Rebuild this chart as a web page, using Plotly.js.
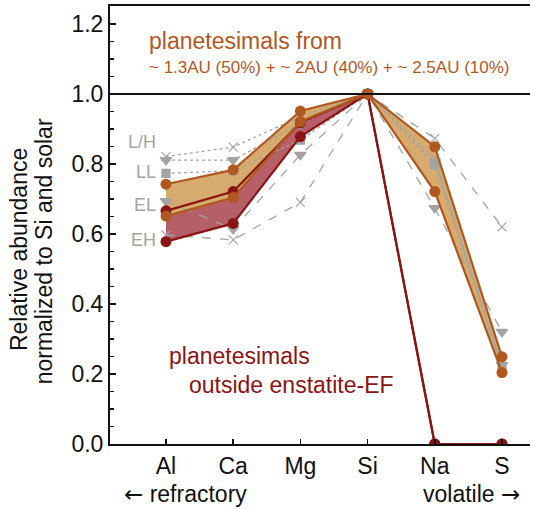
<!DOCTYPE html>
<html>
<head>
<meta charset="utf-8">
<script src="https://cdn.plot.ly/plotly-3.0.1.min.js"></script>
<style>html,body{margin:0;padding:0;background:#fff;}#chart{width:533px;height:509px;}</style>
</head>
<body>
<div id="chart"></div>
<script>
// ---- data ----
const elements = ['Al', 'Ca', 'Mg', 'Si', 'Na', 'S'];
const xIndex = [0, 1, 2, 3, 4, 5];
const orangeUpper = [0.742, 0.783, 0.951, 1.0, 0.849, 0.249];
const orangeLower = [0.651, 0.704, 0.921, 1.0, 0.721, 0.204];
const redUpper = [0.666, 0.721, 0.918, 1.0, 0.0, 0.0];
const redLower = [0.578, 0.630, 0.878, 1.0, 0.0, 0.0];
const grayL = [0.821, 0.848, 0.935, 1.0, 0.815, 0.220];
const grayH = [0.811, 0.811, 0.915, 1.0, 0.805, 0.225];
const grayLL = [0.773, 0.780, 0.868, 1.0, 0.797, 0.215];
const grayEL = [0.694, 0.614, 0.826, 1.0, 0.674, 0.320];
const grayEH = [0.597, 0.583, 0.690, 1.0, 0.873, 0.620];
const groupLabels = ['L/H', 'LL', 'EL', 'EH'];
const groupLabelY = [0.862, 0.776, 0.682, 0.582];

// ---- styles ----
const ORANGE = '#b0581f';
const ORANGE_FILL = '#d6ab6d';
const RED = '#8a1414';
const RED_FILL = '#b55f68';
const GRAY = '#a3a3a3';
const FONT = 'Liberation Sans, Arial, Helvetica, sans-serif';
const ARROW = (a) => '<span style="font-family:DejaVu Sans">' + a + '</span>';

const traces = [];
// fills
traces.push({x: xIndex, y: redLower, mode: 'lines', line: {width: 0, color: RED}, hoverinfo: 'skip', showlegend: false});
traces.push({x: xIndex, y: redUpper, mode: 'lines', line: {width: 0, color: RED}, fill: 'tonexty', fillcolor: RED_FILL, hoverinfo: 'skip', showlegend: false});
traces.push({x: xIndex, y: orangeLower, mode: 'lines', line: {width: 0, color: ORANGE}, hoverinfo: 'skip', showlegend: false});
traces.push({x: xIndex, y: orangeUpper, mode: 'lines', line: {width: 0, color: ORANGE}, fill: 'tonexty', fillcolor: ORANGE_FILL, hoverinfo: 'skip', showlegend: false});

// gray meteorite groups
function grayTrace(y, dash, symbol, size) {
  return {x: xIndex, y: y, mode: 'lines+markers', showlegend: false,
    line: {color: GRAY, width: 1.3, dash: dash},
    marker: {color: GRAY, symbol: symbol, size: size, line: {color: GRAY, width: 1.2}}};
}
traces.push(grayTrace(grayEH, 'dash', 'x-thin', 9));
traces.push(grayTrace(grayEL, 'dash', 'triangle-down', 10));
traces.push(grayTrace(grayLL, 'dot', 'square', 8));
traces.push(grayTrace(grayH, 'dot', 'triangle-down', 10));
traces.push(grayTrace(grayL, 'dot', 'x-thin', 9));

// model lines
function modelTrace(y, color) {
  return {x: xIndex, y: y, mode: 'lines+markers', showlegend: false,
    line: {color: color, width: 2.2},
    marker: {color: color, size: 11, symbol: 'circle'}};
}
traces.push(modelTrace(redLower, RED));
traces.push(modelTrace(redUpper, RED));
traces.push(modelTrace(orangeLower, ORANGE));
traces.push(modelTrace(orangeUpper, ORANGE));

const annotations = [
  {text: 'planetesimals from', x: -0.283, y: 1.151, xref: 'x', yref: 'y', xanchor: 'left', yanchor: 'middle', showarrow: false, font: {size: 23, color: ORANGE}},
  {text: '~ 1.3AU (50%) + ~ 2AU (40%) + ~ 2.5AU (10%)', x: -0.283, y: 1.074, xref: 'x', yref: 'y', xanchor: 'left', yanchor: 'middle', showarrow: false, font: {size: 17, color: ORANGE}},
  {text: 'planetesimals', x: 0.015, y: 0.251, xref: 'x', yref: 'y', xanchor: 'left', yanchor: 'middle', showarrow: false, font: {size: 23, color: RED}},
  {text: 'outside enstatite-EF', x: 0.3125, y: 0.169, xref: 'x', yref: 'y', xanchor: 'left', yanchor: 'middle', showarrow: false, font: {size: 23, color: RED}},
  {text: ARROW('←') + ' refractory', x: -0.655, y: -0.114, xref: 'x', yref: 'paper', xanchor: 'left', yanchor: 'middle', showarrow: false, font: {size: 23, color: '#111'}},
  {text: 'volatile ' + ARROW('→'), x: 5.298, y: -0.114, xref: 'x', yref: 'paper', xanchor: 'right', yanchor: 'middle', showarrow: false, font: {size: 23, color: '#111'}},
  {text: 'Relative abundance', x: -0.2167, y: 0.445, xref: 'paper', yref: 'paper', xanchor: 'center', yanchor: 'middle', textangle: -90, showarrow: false, font: {size: 23, color: '#111'}},
  {text: 'normalized to Si and solar', x: -0.157, y: 0.44, xref: 'paper', yref: 'paper', xanchor: 'center', yanchor: 'middle', textangle: -90, showarrow: false, font: {size: 23, color: '#111'}}
];
groupLabels.forEach((t, i) => {
  annotations.push({text: t, x: -0.119, y: groupLabelY[i], xref: 'x', yref: 'y', xanchor: 'right', yanchor: 'middle', showarrow: false, font: {size: 18, color: GRAY}});
});

const layout = {
  width: 533, height: 509,
  margin: {l: 110, r: 3, t: 6, b: 65, pad: 0},
  paper_bgcolor: '#fff', plot_bgcolor: '#fff',
  font: {family: FONT, size: 23, color: '#111'},
  showlegend: false,
  xaxis: {
    range: [-0.833, 5.417], tickvals: xIndex, ticktext: elements,
    ticks: 'inside', ticklen: 5, tickwidth: 1.5, tickcolor: '#111',
    showline: true, linewidth: 2, linecolor: '#111', mirror: true,
    showgrid: false, zeroline: false, tickfont: {size: 23}
  },
  yaxis: {
    range: [0, 1.251], dtick: 0.2, tick0: 0, tickformat: '.1f',
    ticks: 'inside', ticklen: 6, tickwidth: 1.5, tickcolor: '#111',
    minor: {dtick: 0.05, ticks: 'inside', ticklen: 4, tickwidth: 1.5, tickcolor: '#111'},
    showline: true, linewidth: 2, linecolor: '#111',
    showgrid: false, zeroline: false, tickfont: {size: 23}
  },
  shapes: [{type: 'line', xref: 'paper', yref: 'y', x0: 0, x1: 1, y0: 1, y1: 1, line: {color: '#111', width: 2}}],
  annotations: annotations
};

Plotly.newPlot('chart', traces, layout, {displayModeBar: false, staticPlot: true});
</script>
</body>
</html>
